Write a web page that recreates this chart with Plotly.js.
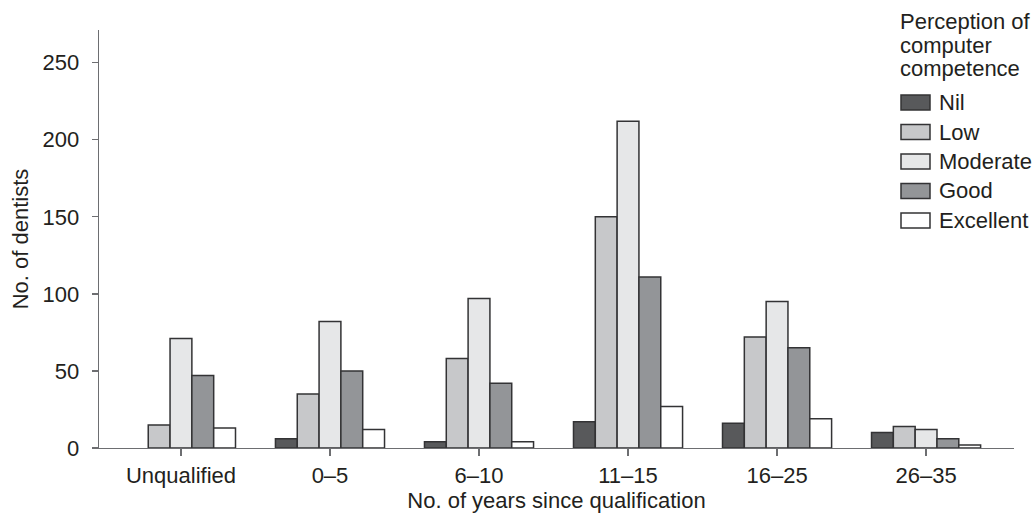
<!DOCTYPE html>
<html>
<head>
<meta charset="utf-8">
<script src="https://cdn.plot.ly/plotly-3.0.1.min.js"></script>
<style>html,body{margin:0;padding:0;background:#fff;}#chart{width:1036px;height:520px;}</style>
</head>
<body>
<div id="chart"></div>
<script>
const categories = ["Unqualified", "0–5", "6–10", "11–15", "16–25", "26–35"];
const seriesNames = ["Nil", "Low", "Moderate", "Good", "Excellent"];
const nilValues = [0, 6, 4, 17, 16, 10];
const lowValues = [15, 35, 58, 150, 72, 14];
const moderateValues = [71, 82, 97, 212, 95, 12];
const goodValues = [47, 50, 42, 111, 65, 6];
const excellentValues = [13, 12, 4, 27, 19, 2];
const yTickValues = [0, 50, 100, 150, 200, 250];
const legendTitleLines = ["Perception of", "computer", "competence"];
const xTitle = "No. of years since qualification";
const yTitle = "No. of dentists";

const seriesValues = [nilValues, lowValues, moderateValues, goodValues, excellentValues];
const seriesColors = ["#58595b", "#c7c8ca", "#e6e7e8", "#939598", "#ffffff"];
const outline = "#333335";
const textColor = "#231f20";
const axisColor = "#6d6e71";
const FONT = "Liberation Sans, Arial, sans-serif";

const traces = seriesNames.map((name, i) => ({
  type: "bar",
  name: name,
  x: categories,
  y: seriesValues[i],
  marker: {
    color: seriesColors[i],
    line: {color: outline, width: seriesValues[i].map(v => (v === 0 ? 0 : 1.5))}
  },
  showlegend: false,
  hoverinfo: "x+y+name"
}));

// plot area geometry in pixels (for legend placement)
const L = 99, R = 22, T = 30, B = 72, W = 1036, H = 520;
const pw = W - L - R, ph = H - T - B;
const px = v => (v - L) / pw;
const py = v => (H - B - v) / ph;

const shapes = [];
const annotations = [];
legendTitleLines.forEach((line, i) => {
  annotations.push({
    xref: "paper", yref: "paper", x: px(898), y: py(22 + i * 23),
    xanchor: "left", yanchor: "middle", showarrow: false,
    text: line, font: {family: FONT, size: 22, color: textColor}
  });
});
seriesNames.forEach((name, i) => {
  const cy = 102.5 + i * 29.5;
  shapes.push({
    type: "rect", xref: "paper", yref: "paper",
    x0: px(901), x1: px(930), y0: py(cy - 7.5), y1: py(cy + 7.5),
    fillcolor: seriesColors[i], line: {color: outline, width: 1.5}
  });
  annotations.push({
    xref: "paper", yref: "paper", x: px(937), y: py(cy),
    xanchor: "left", yanchor: "middle", showarrow: false,
    text: name, font: {family: FONT, size: 22, color: textColor}
  });
});

const layout = {
  width: W, height: H,
  margin: {l: L, r: R, t: T, b: B, pad: 0},
  paper_bgcolor: "#fff", plot_bgcolor: "#fff",
  barmode: "group", bargap: 0.268, bargroupgap: 0,
  font: {family: FONT, size: 22, color: textColor},
  showlegend: false,
  xaxis: {
    type: "category", range: [-0.55, 5.59],
    showline: true, linecolor: axisColor, linewidth: 1.3,
    ticks: "outside", ticklen: 7, tickcolor: axisColor, tickwidth: 1.3,
    showgrid: false, zeroline: false,
    tickfont: {family: FONT, size: 22, color: textColor},
    title: {text: xTitle, font: {family: FONT, size: 22, color: textColor}, standoff: 6}
  },
  yaxis: {
    range: [0, 271.2], tickvals: yTickValues,
    showline: true, linecolor: axisColor, linewidth: 1.3,
    ticks: "outside", ticklen: 6, tickcolor: axisColor, tickwidth: 1.3,
    showgrid: false, zeroline: false, ticklabelstandoff: 8,
    tickfont: {family: FONT, size: 22, color: textColor},
    title: {text: yTitle, font: {family: FONT, size: 22, color: textColor}, standoff: 8}
  },
  shapes: shapes,
  annotations: annotations
};

Plotly.newPlot("chart", traces, layout, {displayModeBar: false, staticPlot: true});
</script>
</body>
</html>
